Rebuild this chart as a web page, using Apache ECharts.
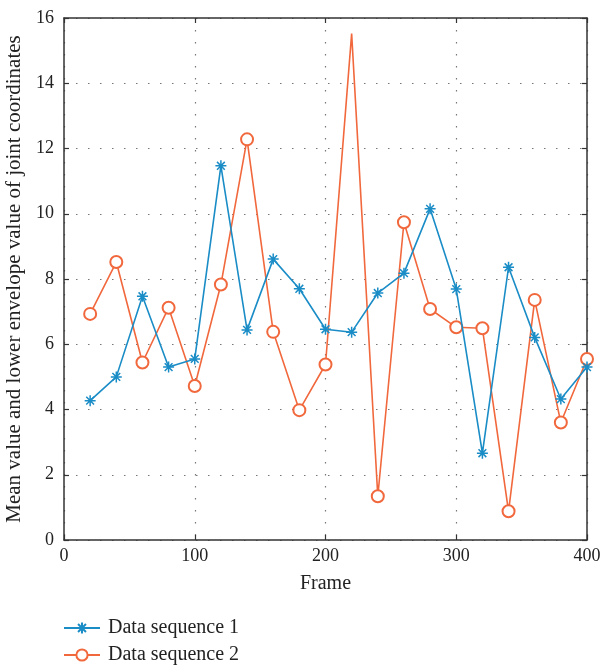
<!DOCTYPE html>
<html>
<head>
<meta charset="utf-8">
<script src="https://cdn.jsdelivr.net/npm/echarts@6/dist/echarts.min.js"></script>
<style>html,body{margin:0;padding:0;background:#fff;}#c{width:601px;height:665px;}</style>
</head>
<body>
<div id="c"></div>
<script>
const frames = [20,40,60,80,100,120,140,160,180,200,220,240,260,280,300,320,340,360,380,400];
const seq1 = [4.27,5.0,7.47,5.3,5.55,11.47,6.44,8.61,7.7,6.46,6.37,7.57,8.18,10.15,7.69,2.66,8.36,6.21,4.32,5.3];
const seq2 = [6.93,8.52,5.44,7.12,4.72,7.83,12.28,6.38,3.98,5.38,15.52,1.34,9.74,7.08,6.52,6.49,0.88,7.36,3.6,5.55];
const seq2NoMarkerIndex = 10;
const seriesNames = ['Data sequence 1','Data sequence 2'];
const xLabel = 'Frame';
const yLabel = 'Mean value and lower envelope value of joint coordinates';

const blue = '#1a8cc6';
const orange = '#f1683d';
const font = 'Liberation Serif';
const star = 'path://M0,-10L0,10M-10,0L10,0M-7.07,-7.07L7.07,7.07M-7.07,7.07L7.07,-7.07';

const chart = echarts.init(document.getElementById('c'), null, {renderer:'canvas'});
const gridLine = {show:true, lineStyle:{color:'#777', type:[1.5,10.5], width:1.2}};
const axisLine = {show:true, onZero:false, lineStyle:{color:'#333', width:1.5}};
const tick = {show:true, inside:true, length:5, lineStyle:{color:'#333', width:1.2}};

chart.setOption({
  animation:false,
  backgroundColor:'#fff',
  grid:{left:64, right:14, top:18, bottom:125, containLabel:false, outerBoundsMode:'none'},
  legend:{
    orient:'vertical', left:63, top:618, height:80, padding:0, itemGap:7,
    itemWidth:36, itemHeight:14,
    textStyle:{fontFamily:font, fontSize:20, color:'#222', padding:[0,0,0,3]},
    data:seriesNames
  },
  xAxis:[{
    type:'value', min:0, max:400, interval:100,
    name:xLabel, nameLocation:'middle', nameGap:34,
    nameTextStyle:{fontFamily:font, fontSize:20, color:'#222'},
    axisLine:axisLine, axisTick:tick,
    axisLabel:{fontFamily:font, fontSize:18, color:'#222', margin:7},
    splitLine:gridLine
  },{
    type:'value', min:0, max:400, interval:100, position:'top',
    axisLine:axisLine, axisTick:tick, axisLabel:{show:false}, splitLine:{show:false}
  }],
  yAxis:[{
    type:'value', min:0, max:16, interval:2,
    name:yLabel, nameLocation:'middle', nameGap:34,
    nameTextStyle:{fontFamily:font, fontSize:21, color:'#222'},
    axisLine:axisLine, axisTick:tick,
    axisLabel:{fontFamily:font, fontSize:18, color:'#222', margin:10},
    splitLine:gridLine
  },{
    type:'value', min:0, max:16, interval:2, position:'right',
    axisLine:axisLine, axisTick:tick, axisLabel:{show:false}, splitLine:{show:false}
  }],
  series:[{
    name:seriesNames[0], type:'line',
    data:frames.map((f,i)=>[f,seq1[i]]),
    symbol:star, symbolSize:11,
    lineStyle:{color:blue, width:1.6},
    itemStyle:{color:blue, borderColor:blue, borderWidth:1.5},
    z:3
  },{
    name:seriesNames[1], type:'line',
    data:frames.map((f,i)=> i===seq2NoMarkerIndex ? {value:[f,seq2[i]], symbol:'none'} : [f,seq2[i]]),
    symbol:'emptyCircle', symbolSize:12,
    lineStyle:{color:orange, width:1.6},
    itemStyle:{color:orange, borderColor:orange, borderWidth:1.5},
    z:2
  }]
});
</script>
</body>
</html>
